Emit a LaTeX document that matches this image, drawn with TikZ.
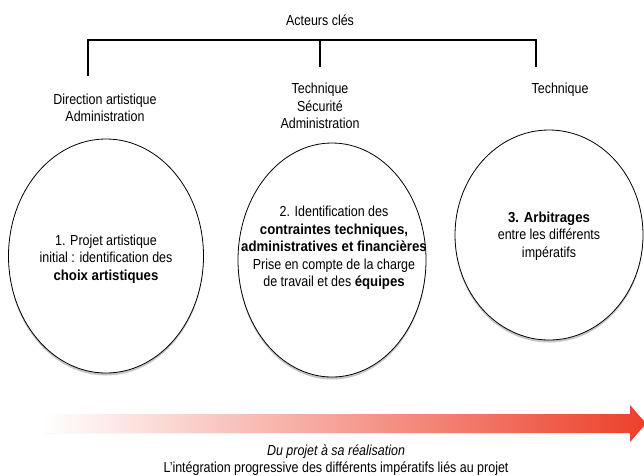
\documentclass[tikz,border=0pt]{standalone}
\usepackage{fontspec}
\setmainfont{Liberation Sans}[FakeStretch=0.86, BoldFeatures={FakeStretch=0.91}]
\usetikzlibrary{shapes.geometric,shadows}
\definecolor{arrowred}{RGB}{236,64,42}
\begin{document}
\begin{tikzpicture}[x=1pt,y=-1pt,
  every node/.style={font=\fontsize{14.5}{17.5}\selectfont, align=center, inner sep=0pt},
  bubble/.style={ellipse, draw=black, line width=0.8pt, fill=white,
    drop shadow={shadow xshift=0pt, shadow yshift=-2.5pt, opacity=0.45}},
  bracket/.style={line width=2.2pt, line cap=butt}]
\useasboundingbox (0,0) rectangle (644,475);

% title
\node (title) at (320,20) {Acteurs clés};

% bracket
\coordinate (hl) at (88,40);
\coordinate (hm) at (320,40);
\coordinate (hr) at (536,40);
\coordinate (bl) at (88,76);
\coordinate (bm) at (320,67);
\coordinate (br) at (536,67);
\draw[bracket] (bl) -- (hl) -- (hr) -- (br);
\draw[bracket] (hm) -- (bm);

% actor labels
\node (a1) at (105,108) {Direction artistique\\Administration};
\node (a2) at (320,106) {Technique\\Sécurité\\Administration};
\node (a3) at (560,90) {Technique};

% ellipses
\node[bubble, minimum width=195, minimum height=234] (e1) at (106,256) {};
\node[bubble, minimum width=188, minimum height=234] (e2) at (332,260) {};
\node[bubble, minimum width=188, minimum height=210] (e3) at (549,235) {};

\node (t1) at (106,259)
  {1. Projet artistique\\initial : identification des\\\textbf{choix artistiques}};
\node (t2) at (334,248)
  {2. Identification des\\\textbf{contraintes techniques,}\\\textbf{administratives et financières}\\Prise en compte de la charge\\de travail et des \textbf{équipes}};
\node (t3) at (549,236)
  {\textbf{3. Arbitrages}\\entre les différents\\impératifs};

% arrow
\coordinate (s1) at (43,414);
\coordinate (s2) at (630,414);
\coordinate (h1) at (630,405);
\coordinate (tip) at (646,423.5);
\coordinate (h2) at (630,442);
\coordinate (s3) at (630,433);
\coordinate (s4) at (43,433);
\fill[black!35, opacity=0.6, yshift=-2pt] (s1) -- (s2) -- (h1) -- (tip) -- (h2) -- (s3) -- (s4) -- cycle;
\shade[left color=white, right color=arrowred] (s1) -- (s2) -- (h1) -- (tip) -- (h2) -- (s3) -- (s4) -- cycle;

% caption
\node (cap) at (336,460) {\textit{Du projet à sa réalisation}\\L'intégration progressive des différents impératifs liés au projet};
\end{tikzpicture}
\end{document}
